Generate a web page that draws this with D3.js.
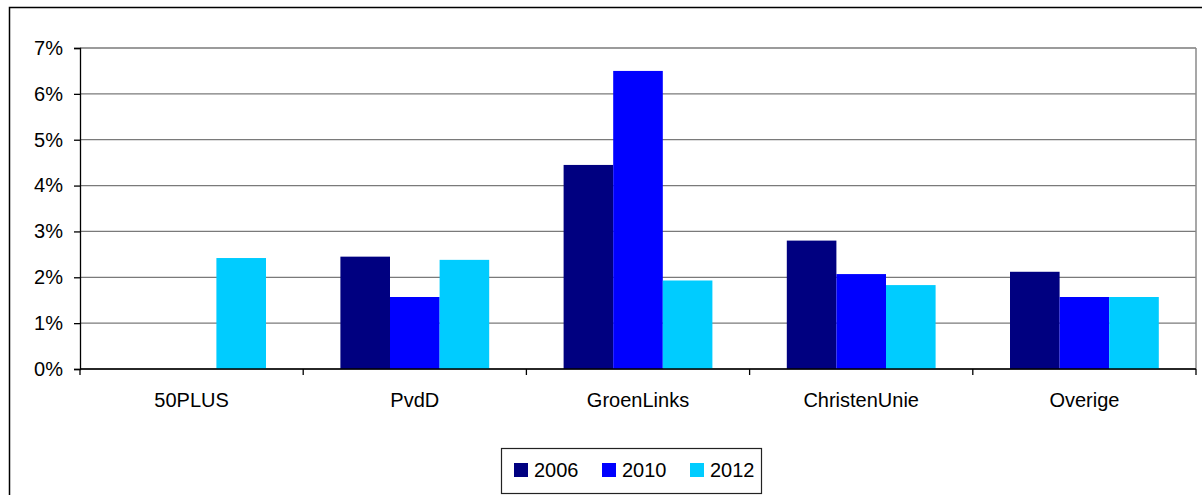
<!DOCTYPE html>
<html>
<head>
<meta charset="utf-8">
<script src="https://cdnjs.cloudflare.com/ajax/libs/d3/7.8.5/d3.min.js"></script>
<style>
  body { margin: 0; background: #fff; }
  svg { display: block; font-family: "Liberation Sans", Arial, sans-serif; }
</style>
</head>
<body>
<div id="chart"></div>
<script>
// values (percent of vote)
var categories = ["50PLUS", "PvdD", "GroenLinks", "ChristenUnie", "Overige"];
var series = ["2006", "2010", "2012"];
var v2006 = [null, 2.45, 4.45, 2.80, 2.12];
var v2010 = [null, 1.57, 6.50, 2.07, 1.57];
var v2012 = [2.42, 2.38, 1.93, 1.83, 1.57];
var yTicks = [0, 1, 2, 3, 4, 5, 6, 7];
var colors = ["#000080", "#0000ff", "#00ccff"];

var svgWidth = 1202;
var svgHeight = 495;

var plot = { left: 80, right: 1196, top: 48, bottom: 369 };

var svg = d3.select("#chart")
  .append("svg")
  .attr("width", svgWidth)
  .attr("height", svgHeight);

// outer chart frame (right and bottom fall outside the picture)
svg.append("rect")
  .attr("x", 9.5)
  .attr("y", 7.5)
  .attr("width", 1200)
  .attr("height", 500)
  .attr("fill", "#fff")
  .attr("stroke", "#000")
  .attr("stroke-width", 1.5);

var x0 = d3.scaleBand()
  .domain(categories)
  .range([plot.left, plot.right])
  .padding(0);

var x1 = d3.scaleBand()
  .domain(series)
  .range([0, x0.bandwidth()])
  .paddingInner(0)
  .paddingOuter(0.75);

var y = d3.scaleLinear()
  .domain([0, 7])
  .range([plot.bottom, plot.top]);

// gridlines
svg.append("g")
  .selectAll("line")
  .data(yTicks)
  .enter()
  .append("line")
  .attr("x1", plot.left)
  .attr("x2", plot.right)
  .attr("y1", d => y(d))
  .attr("y2", d => y(d))
  .attr("stroke", "#7a7a7a")
  .attr("stroke-width", 1.3);

// plot area right border
svg.append("line")
  .attr("x1", plot.right)
  .attr("x2", plot.right)
  .attr("y1", plot.top)
  .attr("y2", plot.bottom)
  .attr("stroke", "#8a8a8a")
  .attr("stroke-width", 1.5);

// bars
var table = categories.map(function(c, i) {
  return { cat: c, vals: [v2006[i], v2010[i], v2012[i]] };
});

var groups = svg.append("g")
  .selectAll("g")
  .data(table)
  .enter()
  .append("g")
  .attr("transform", d => `translate(${x0(d.cat)},0)`);

groups.selectAll("rect")
  .data(d => d.vals.map((v, j) => ({ s: series[j], v: v, c: colors[j] })).filter(e => e.v != null))
  .enter()
  .append("rect")
  .attr("x", d => x1(d.s))
  .attr("width", x1.bandwidth())
  .attr("y", d => y(d.v))
  .attr("height", d => y(0) - y(d.v))
  .attr("fill", d => d.c);

// y axis
var leftAxis = d3.axisLeft(y)
  .tickValues(yTicks)
  .tickFormat(d => d + "%")
  .tickSize(6)
  .tickPadding(11);

var gy = svg.append("g")
  .attr("transform", `translate(${plot.left},0)`)
  .call(leftAxis);
gy.select(".domain").attr("stroke", "#000").attr("stroke-width", 1.3);
gy.selectAll(".tick line").attr("stroke", "#000").attr("stroke-width", 1.3);
gy.selectAll("text")
  .attr("font-size", 20)
  .attr("font-family", "Liberation Sans, Arial, sans-serif")
  .attr("fill", "#000");

// x axis: ticks sit between categories
var gx = svg.append("g");
gx.append("line")
  .attr("x1", plot.left)
  .attr("x2", plot.right)
  .attr("y1", plot.bottom)
  .attr("y2", plot.bottom)
  .attr("stroke", "#000")
  .attr("stroke-width", 1.3);

gx.selectAll("line.cut")
  .data(categories.concat(["_end"]))
  .enter()
  .append("line")
  .attr("class", "cut")
  .attr("x1", (d, i) => plot.left + i * x0.step())
  .attr("x2", (d, i) => plot.left + i * x0.step())
  .attr("y1", plot.bottom)
  .attr("y2", plot.bottom + 6)
  .attr("stroke", "#000")
  .attr("stroke-width", 1.3);

gx.selectAll("text")
  .data(categories)
  .enter()
  .append("text")
  .attr("x", d => x0(d) + x0.bandwidth() / 2)
  .attr("y", 407)
  .attr("text-anchor", "middle")
  .attr("font-size", 20)
  .text(d => d);

// legend
var legend = svg.append("g");
legend.append("rect")
  .attr("x", 501.5)
  .attr("y", 448.5)
  .attr("width", 260)
  .attr("height", 45)
  .attr("fill", "#fff")
  .attr("stroke", "#222")
  .attr("stroke-width", 1.2);

var legendX = [514, 602, 690];
var items = legend.selectAll("g.item")
  .data(series)
  .enter()
  .append("g")
  .attr("class", "item")
  .attr("transform", (d, i) => `translate(${legendX[i]},0)`);

items.append("rect")
  .attr("x", 0)
  .attr("y", 463)
  .attr("width", 14)
  .attr("height", 14)
  .attr("fill", (d, i) => colors[i]);

items.append("text")
  .attr("x", 20)
  .attr("y", 477)
  .attr("font-size", 20)
  .text(d => d);
</script>
</body>
</html>
